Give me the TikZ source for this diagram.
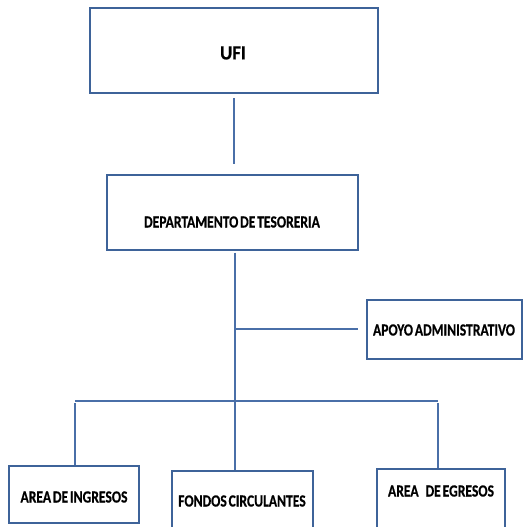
\documentclass[tikz,border=0pt]{standalone}
\usepackage{fontspec}
\setmainfont{Carlito}[FakeStretch=0.8, WordSpace=0.6, BoldFeatures={FakeBold=0.5}]
\newfontfamily\titlefont{Carlito}[FakeStretch=0.94, BoldFeatures={FakeBold=0.5}]
\definecolor{boxblue}{HTML}{3E6399}
\definecolor{linkblue}{HTML}{4A6FA8}
\begin{document}
\begin{tikzpicture}[x=1pt, y=-1pt,
  box/.style={draw=boxblue, line width=2pt, fill=white, inner sep=0pt},
  lbl/.style={font=\bfseries\fontsize{17}{20}\selectfont, inner sep=0pt},
  biglbl/.style={font=\titlefont\bfseries\fontsize{20}{24}\selectfont, inner sep=0pt},
  link/.style={draw=linkblue, line width=1.8pt}]
\useasboundingbox (0,0) rectangle (523,527);
\clip (0,0) rectangle (523,527);

% boxes
\node[box, minimum width=288pt, minimum height=85pt] (ufi) at (234,50.5) {};
\node[box, minimum width=251pt, minimum height=75pt] (dept) at (232.5,212.5) {};
\node[box, minimum width=155pt, minimum height=59pt] (apoyo) at (444.5,329.5) {};
\node[box, minimum width=130pt, minimum height=57pt] (ingresos) at (74,494.5) {};
\node[box, minimum width=141pt, minimum height=80pt] (fondos) at (242.5,511) {};
\node[box, minimum width=128pt, minimum height=80pt] (egresos) at (441,509) {};

% labels
\node[biglbl] (ufiT) at (233,53) {UFI};
\node[lbl] (deptT) at (232,222) {DEPARTAMENTO DE TESORERIA};
\node[lbl] (apoyoT) at (444,330) {APOYO ADMINISTRATIVO};
\node[lbl] (ingresosT) at (74,497) {AREA DE INGRESOS};
\node[lbl] (fondosT) at (242,501) {FONDOS CIRCULANTES};
\node[lbl] (egresosT) at (441,491) {AREA\hspace{7pt}DE EGRESOS};

% junction points
\coordinate (trunk) at (235,401);
\coordinate (apj) at (235,329);
\coordinate (busL) at (75,401);
\coordinate (busR) at (438,401);

% connectors
\draw[link, shorten <=4pt, shorten >=10pt] (ufi.south) -- (ufi.south |- dept.north);
\draw[link, shorten <=1.5pt] (dept.south -| trunk) -- (trunk |- fondos.north);
\draw[link, shorten >=8pt] (apj) -- (apoyo.west |- apj);
\draw[link] (busL) -- (busR);
\draw[link, shorten <=2pt] (busL) -- (busL |- ingresos.north);
\draw[link, shorten <=2pt] (busR) -- (busR |- egresos.north);
\end{tikzpicture}
\end{document}
